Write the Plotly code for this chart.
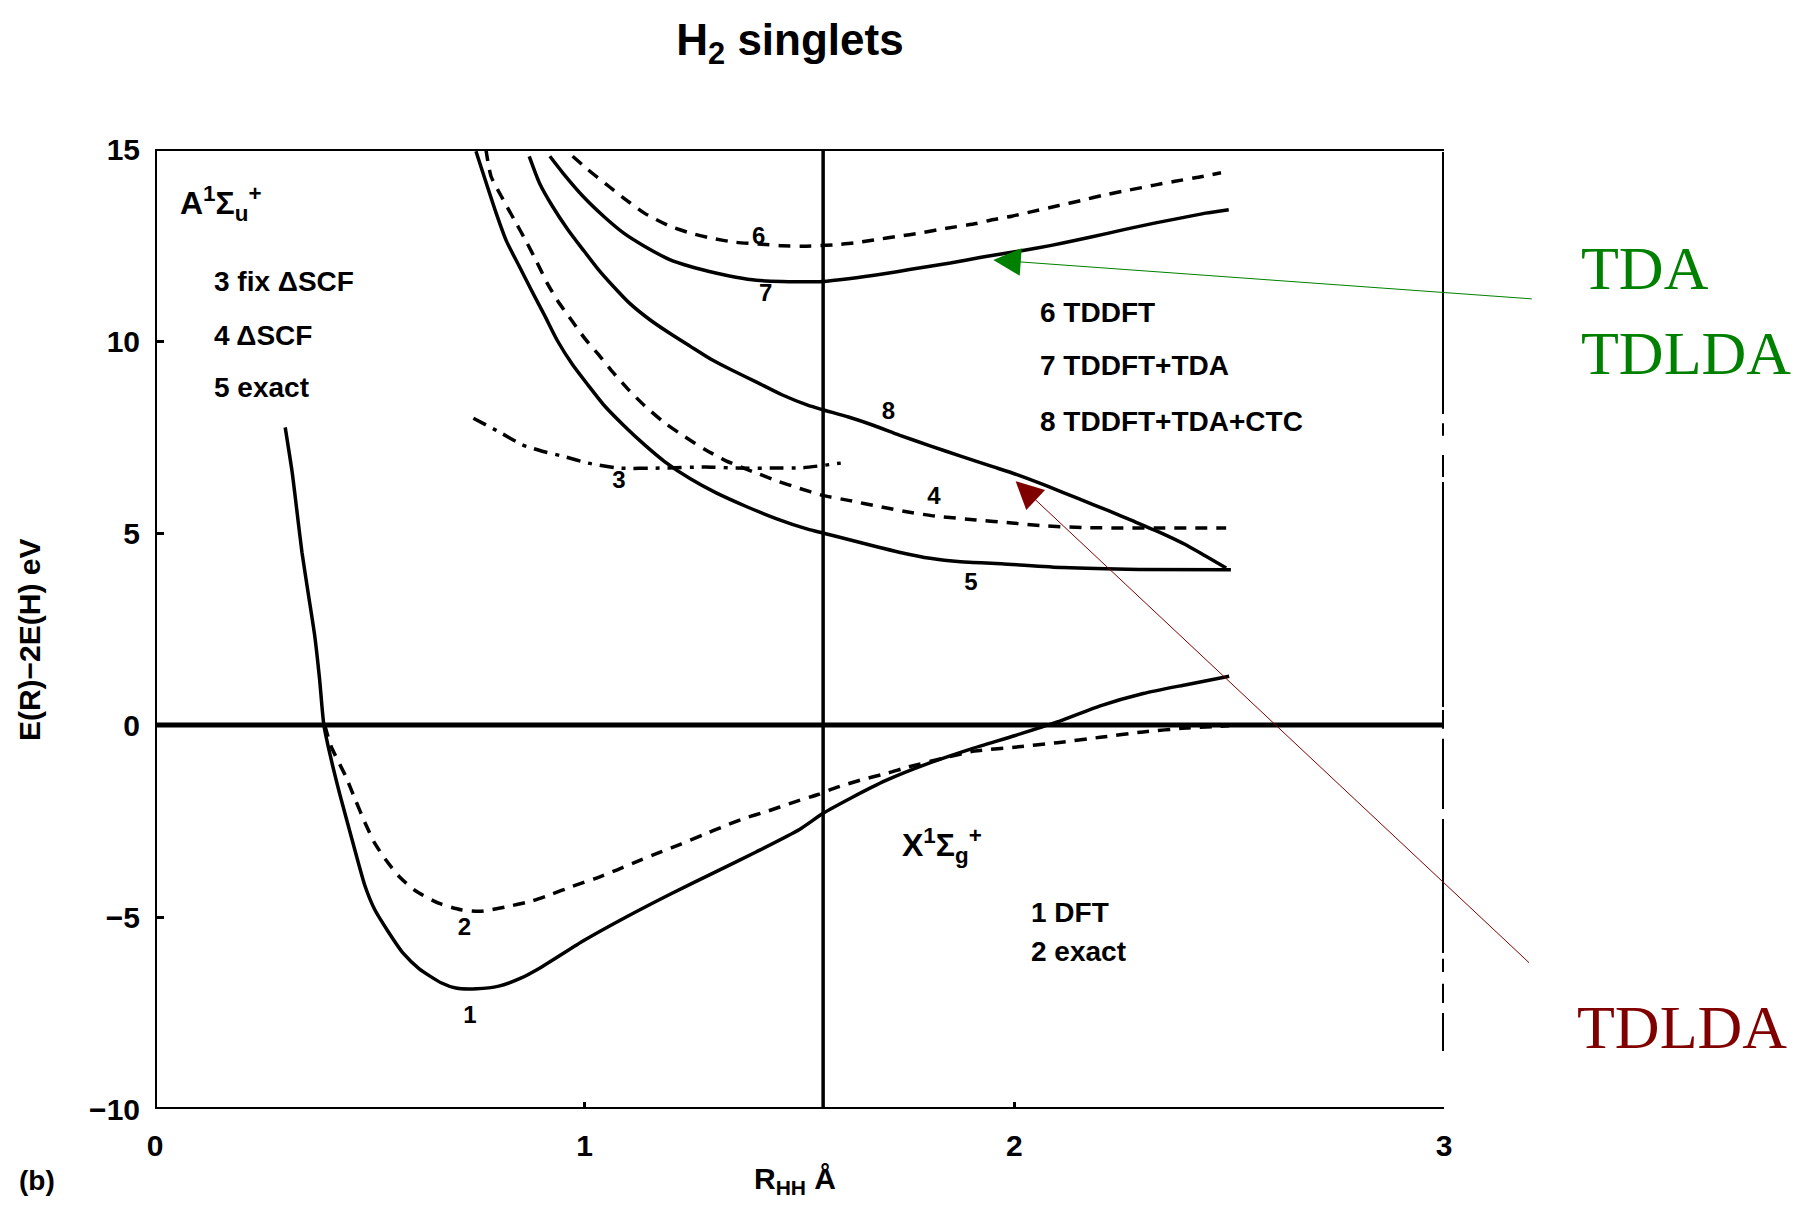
import plotly.graph_objects as go

# ---------------- data ----------------
# ground state, curve 1 (DFT, solid)
R1 = [0.303, 0.319, 0.330, 0.342, 0.357, 0.372, 0.383, 0.393, 0.408, 0.430, 0.459, 0.489,
      0.511, 0.541, 0.578, 0.615, 0.667, 0.700, 0.749, 0.800, 0.850, 0.900, 1.000, 1.100,
      1.200, 1.300, 1.400, 1.500, 1.555, 1.620, 1.700, 1.800, 1.900, 2.000, 2.100, 2.200,
      2.300, 2.400, 2.500]
E1 = [7.75, 6.6, 5.6, 4.5, 3.4, 2.3, 1.2, 0.0, -0.8, -1.8, -3.0, -4.2,
      -4.8, -5.35, -5.95, -6.35, -6.72, -6.85, -6.87, -6.8, -6.6, -6.3, -5.6, -4.98,
      -4.4, -3.85, -3.3, -2.72, -2.3, -1.9, -1.45, -1.0, -0.62, -0.28, 0.08, 0.5,
      0.82, 1.05, 1.27]
# ground state, curve 2 (exact, dashed)
R2 = [0.395, 0.410, 0.444, 0.466, 0.489, 0.511, 0.537, 0.571, 0.608, 0.660, 0.712, 0.757,
      0.815, 0.875, 0.920, 0.972, 1.024, 1.076, 1.127, 1.179, 1.224, 1.276, 1.328, 1.372,
      1.424, 1.484, 1.543, 1.588, 1.647, 1.706, 1.751, 1.840, 1.907, 2.000, 2.100, 2.200,
      2.300, 2.400, 2.500]
E2 = [0.0, -0.56, -1.34, -1.94, -2.55, -3.07, -3.51, -3.98, -4.33, -4.64, -4.81, -4.85,
      -4.74, -4.59, -4.42, -4.2, -4.0, -3.77, -3.53, -3.3, -3.1, -2.86, -2.62, -2.43,
      -2.25, -2.02, -1.81, -1.62, -1.42, -1.25, -1.1, -0.85, -0.68, -0.58, -0.46, -0.32,
      -0.18, -0.08, -0.02]
# excited, curve 3 (fix dSCF, dash-dot)
R3 = [0.741, 0.806, 0.854, 0.901, 0.949, 1.008, 1.079, 1.174, 1.281, 1.352, 1.436, 1.507, 1.596]
E3 = [7.99, 7.6, 7.3, 7.13, 7.0, 6.82, 6.69, 6.69, 6.72, 6.69, 6.69, 6.7, 6.82]
# curve 4 (dSCF, dashed)
R4 = [0.770, 0.782, 0.806, 0.836, 0.866, 0.889, 0.913, 0.937, 0.972, 1.002, 1.032, 1.067,
      1.103, 1.139, 1.186, 1.234, 1.281, 1.329, 1.400, 1.447, 1.495, 1.554, 1.614, 1.685,
      1.756, 1.816, 1.911, 1.994, 2.065, 2.160, 2.350, 2.493]
E4 = [15.0, 14.29, 13.77, 13.16, 12.55, 12.05, 11.5, 11.05, 10.5, 10.04, 9.65, 9.17,
      8.72, 8.32, 7.87, 7.5, 7.17, 6.88, 6.56, 6.36, 6.18, 5.98, 5.85, 5.69,
      5.54, 5.44, 5.34, 5.26, 5.19, 5.14, 5.13, 5.13]
# curve 5 (exact, solid)
R5 = [0.747, 0.794, 0.818, 0.848, 0.877, 0.907, 0.937, 0.972, 1.008, 1.044, 1.091, 1.139,
      1.186, 1.246, 1.305, 1.376, 1.447, 1.519, 1.554, 1.614, 1.673, 1.732, 1.804, 1.875,
      1.970, 2.113, 2.290, 2.504]
E5 = [14.94, 13.33, 12.6, 11.94, 11.3, 10.66, 10.0, 9.38, 8.85, 8.34, 7.8, 7.3,
      6.86, 6.41, 6.05, 5.69, 5.37, 5.1, 5.0, 4.83, 4.66, 4.5, 4.34, 4.25,
      4.2, 4.1, 4.05, 4.04]
# curve 6 (TDDFT, dashed)
R6 = [0.972, 1.008, 1.056, 1.103, 1.139, 1.198, 1.246, 1.293, 1.352, 1.412, 1.459, 1.507,
      1.578, 1.626, 1.673, 1.732, 1.780, 1.839, 1.911, 1.946, 1.994, 2.041, 2.101, 2.160,
      2.208, 2.267, 2.326, 2.374, 2.421, 2.481]
E6 = [14.81, 14.46, 14.03, 13.62, 13.33, 12.99, 12.81, 12.68, 12.57, 12.52, 12.48, 12.47,
      12.5, 12.55, 12.63, 12.73, 12.81, 12.93, 13.06, 13.15, 13.25, 13.37, 13.52, 13.67,
      13.8, 13.93, 14.06, 14.16, 14.25, 14.38]
# curve 7 (TDDFT+TDA, solid)
R7 = [0.919, 0.949, 0.996, 1.044, 1.091, 1.139, 1.198, 1.246, 1.305, 1.352, 1.400, 1.459,
      1.554, 1.614, 1.697, 1.756, 1.851, 1.923, 1.994, 2.053, 2.113, 2.184, 2.255, 2.326,
      2.386, 2.445, 2.499]
E7 = [14.81, 14.38, 13.77, 13.25, 12.81, 12.47, 12.12, 11.94, 11.77, 11.66, 11.58, 11.55,
      11.55, 11.62, 11.75, 11.86, 12.03, 12.18, 12.31, 12.42, 12.55, 12.72, 12.9, 13.07,
      13.2, 13.33, 13.42]
# curve 8 (TDDFT+TDA+CTC, solid)
R8 = [0.871, 0.895, 0.925, 0.961, 0.996, 1.032, 1.067, 1.103, 1.151, 1.198, 1.246, 1.293,
      1.341, 1.400, 1.459, 1.519, 1.554, 1.614, 1.673, 1.732, 1.804, 1.875, 1.946, 2.006,
      2.077, 2.148, 2.219, 2.279, 2.350, 2.398, 2.445, 2.493]
E8 = [14.81, 14.11, 13.51, 12.90, 12.38, 11.86, 11.42, 11.0, 10.56, 10.2, 9.86, 9.53,
      9.25, 8.93, 8.6, 8.33, 8.21, 8.02, 7.8, 7.55, 7.27, 7.0, 6.74, 6.52,
      6.22, 5.9, 5.58, 5.3, 4.96, 4.7, 4.4, 4.09]

# curve number labels
label_text = ["1", "2", "3", "4", "5", "6", "7", "8"]
label_R = [0.733, 0.720, 1.080, 1.813, 1.899, 1.405, 1.421, 1.707]
label_E = [-7.61, -5.31, 6.33, 5.91, 3.67, 12.69, 11.19, 8.12]

# in-plot legend texts
left_legend = ["3 fix ΔSCF", "4 ΔSCF", "5 exact"]
left_legend_E = [11.55, 10.15, 8.78]
right_legend = ["6 TDDFT", "7 TDDFT+TDA", "8 TDDFT+TDA+CTC"]
right_legend_E = [10.75, 9.35, 7.91]
bottom_legend = ["1 DFT", "2 exact"]
bottom_legend_E = [-4.87, -5.91]

x_ticks = [0, 1, 2, 3]
y_ticks = [-10, -5, 0, 5, 10, 15]
R_mark = 1.555  # vertical reference line

# ---------------- figure ----------------
BLACK = "#000000"
FONT = "Liberation Sans"
LW = 3.5
DASH = "12px,9px"

fig = go.Figure()

def add_curve(R, E, dash):
    fig.add_trace(go.Scatter(x=R, y=E, mode="lines",
                             line=dict(color=BLACK, width=LW, dash=dash, shape="spline",
                                       smoothing=0.6),
                             showlegend=False, hoverinfo="skip"))

add_curve(R1, E1, "solid")
add_curve(R2, E2, DASH)
add_curve(R3, E3, "14px,8px,4px,8px")
add_curve(R4, E4, DASH)
add_curve(R5, E5, "solid")
add_curve(R6, E6, DASH)
add_curve(R7, E7, "solid")
add_curve(R8, E8, "solid")

fig.add_trace(go.Scatter(x=label_R, y=label_E, mode="text", text=label_text,
                         textfont=dict(family=FONT, size=24, color=BLACK, weight="bold"),
                         showlegend=False, hoverinfo="skip"))

shapes = []
def seg(x0, y0, x1, y1, w=4, dash="solid"):
    shapes.append(dict(type="line", xref="x", yref="y", x0=x0, y0=y0, x1=x1, y1=y1,
                       line=dict(color=BLACK, width=w, dash=dash), layer="above"))

# frame
seg(0, -10, 0, 15)
seg(0, 15, 3, 15)
seg(0, -10, 3, -10)
# broken right edge
for a, b in [(14.92, 8.1), (7.86, 7.53), (7.03, 6.46), (6.33, 0.47), (0.39, -0.1),
             (-0.36, -2.19), (-2.45, -5.94), (-6.09, -6.43), (-6.74, -7.24), (-7.5, -8.49)]:
    seg(3, a, 3, b)
# zero line and vertical marker line
seg(0, 0, 3, 0, w=5)
seg(R_mark, -10, R_mark, 15, w=3.5)

annotations = []
def txt(x, y, s, size=30, xanchor="left", xref="x", yref="y", color=BLACK, family=FONT,
        weight="bold", angle=0):
    annotations.append(dict(x=x, y=y, xref=xref, yref=yref, text=s, showarrow=False,
                            xanchor=xanchor, yanchor="middle", textangle=angle,
                            font=dict(family=family, size=size, color=color, weight=weight)))

txt(0.054, 13.59, "A<sup>1</sup>Σ<sub>u</sub><sup>+</sup>", size=32)
for s, e in zip(left_legend, left_legend_E):
    txt(0.133, e, s, size=28)
for s, e in zip(right_legend, right_legend_E):
    txt(2.054, e, s, size=28)
txt(1.735, -3.13, "X<sup>1</sup>Σ<sub>g</sub><sup>+</sup>", size=32)
for s, e in zip(bottom_legend, bottom_legend_E):
    txt(2.035, e, s, size=28)

# axis titles and panel tag (paper coords)
txt(-0.0977, 0.4885, "E(R)−2E(H) eV", size=30, xanchor="center", xref="paper", yref="paper", angle=-90)
txt(0.4965, -0.074, "R<sub>HH</sub> Å", size=30, xanchor="center", xref="paper", yref="paper")
txt(-0.0915, -0.074, "(b)", size=28, xanchor="center", xref="paper", yref="paper")

# coloured overlay labels
GREEN = "#008000"
DRED = "#800000"
txt(1.1045, 0.876, "TDA", size=62, xref="paper", yref="paper", color=GREEN,
    family="Liberation Serif", weight="normal")
txt(1.1045, 0.787, "TDLDA", size=62, xref="paper", yref="paper", color=GREEN,
    family="Liberation Serif", weight="normal")
txt(1.1015, 0.085, "TDLDA", size=62, xref="paper", yref="paper", color=DRED,
    family="Liberation Serif", weight="normal")

# arrows
annotations.append(dict(x=1.951, y=12.11, xref="x", yref="y", ax=540, ay=39, text="",
                        showarrow=True, arrowhead=2, arrowsize=5.5, arrowwidth=1,
                        arrowcolor=GREEN, standoff=0))
annotations.append(dict(x=2.003, y=6.35, xref="x", yref="y", ax=515, ay=483, text="",
                        showarrow=True, arrowhead=2, arrowsize=5.5, arrowwidth=1,
                        arrowcolor=DRED, standoff=0))

fig.update_layout(
    width=1797, height=1207,
    margin=dict(l=155, r=353, t=149, b=98),
    paper_bgcolor="white", plot_bgcolor="white",
    shapes=shapes, annotations=annotations,
    title=dict(text="H<sub>2</sub> singlets", x=0.4396, y=0.967, xanchor="center",
               yanchor="middle", font=dict(family=FONT, size=44, color=BLACK, weight="bold")),
    xaxis=dict(range=[0, 3], tickvals=x_ticks, ticktext=[str(v) for v in x_ticks],
               ticks="inside", ticklen=7, tickwidth=3, tickcolor=BLACK,
               showgrid=False, zeroline=False, showline=False,
               ticklabelstandoff=16,
               tickfont=dict(family=FONT, size=30, color=BLACK, weight="bold")),
    yaxis=dict(range=[-10, 15], tickvals=y_ticks,
               ticks="inside", ticklen=9, tickwidth=3, tickcolor=BLACK,
               showgrid=False, zeroline=False, showline=False,
               ticklabelstandoff=14,
               tickfont=dict(family=FONT, size=30, color=BLACK, weight="bold")),
)

fig.write_html("out.html")
